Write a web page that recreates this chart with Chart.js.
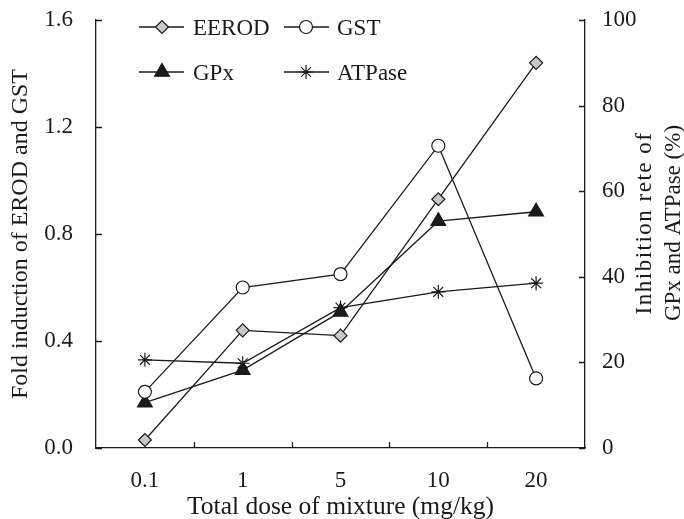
<!DOCTYPE html>
<html>
<head>
<meta charset="utf-8">
<script src="https://cdn.jsdelivr.net/npm/chart.js@4/dist/chart.umd.min.js"></script>
<style>
  html, body { margin: 0; padding: 0; background: #fff; }
  #wrap { width: 684px; height: 519px; }
</style>
</head>
<body>
<div id="wrap"><canvas id="doseChart" width="684" height="519"></canvas></div>
<script>
// Dose groups (mg/kg)
const doses = ['0.1', '1', '5', '10', '20'];

// Fold induction (left axis)
const erodFold = [0.03, 0.44, 0.42, 0.93, 1.44];
const gstFold = [0.21, 0.60, 0.65, 1.13, 0.26];

// Inhibition rate, % (right axis)
const gpxInhib = [10.6, 18.2, 31.8, 53.0, 55.2];
const atpaseInhib = [20.6, 19.8, 32.8, 36.5, 38.5];

// Axis tick values
const leftTicks = [0, 0.4, 0.8, 1.2, 1.6];
const rightTicks = [0, 20, 40, 60, 80, 100];

const SERIF = "'Liberation Serif', 'Times New Roman', serif";
const INK = '#1a1a1a';

Chart.defaults.font.family = SERIF;
Chart.defaults.color = INK;

const series = [
    { label: 'EEROD', data: erodFold, axis: 'y', style: 'rectRot', radius: 6.5, fill: '#c8c8c8' },
    { label: 'GST', data: gstFold, axis: 'y', style: 'circle', radius: 6.5, fill: '#ffffff' },
    { label: 'GPx', data: gpxInhib, axis: 'y1', style: 'triangle', radius: 8.5, fill: INK },
    { label: 'ATPase', data: atpaseInhib, axis: 'y1', style: 'star', radius: 7, fill: INK }
];

// Legend slots: two rows, two columns inside the plot
const legendSlots = [
    { x0: 139, x1: 184, mx: 162, tx: 193, y: 27 },
    { x0: 284, x1: 329, mx: 306, tx: 337, y: 27 },
    { x0: 139, x1: 184, mx: 162, tx: 193, y: 72 },
    { x0: 284, x1: 329, mx: 306, tx: 337, y: 72 }
];

// keep the plot box fixed regardless of label sizes
function noPad(scale) {
    scale.paddingTop = 0;
    scale.paddingBottom = 0;
}

const insideTicks = {
    id: 'insideTicks',
    afterDraw(chart) {
        const ctx = chart.ctx;
        const area = chart.chartArea;
        const len = 6;
        ctx.save();
        ctx.strokeStyle = INK;
        ctx.lineWidth = 1.3;
        ctx.beginPath();
        const yl = chart.scales.y;
        yl.ticks.forEach((t, i) => {
            const py = Math.round(yl.getPixelForTick(i)) + 0.5;
            ctx.moveTo(area.left, py);
            ctx.lineTo(area.left + len, py);
        });
        const yr = chart.scales.y1;
        yr.ticks.forEach((t, i) => {
            const py = Math.round(yr.getPixelForTick(i)) + 0.5;
            ctx.moveTo(area.right, py);
            ctx.lineTo(area.right - len, py);
        });
        // x ticks sit between the dose groups
        const xs = chart.scales.x;
        for (let i = 0; i < doses.length - 1; i++) {
            const px = Math.round((xs.getPixelForTick(i) + xs.getPixelForTick(i + 1)) / 2) + 0.5;
            ctx.moveTo(px, area.bottom);
            ctx.lineTo(px, area.bottom - len);
        }
        ctx.stroke();
        ctx.restore();
    }
};

const legendBox = {
    id: 'legendBox',
    afterDraw(chart) {
        const ctx = chart.ctx;
        ctx.save();
        series.forEach((s, i) => {
            const slot = legendSlots[i];
            ctx.strokeStyle = INK;
            ctx.lineWidth = 1.3;
            ctx.beginPath();
            ctx.moveTo(slot.x0, slot.y);
            ctx.lineTo(slot.x1, slot.y);
            ctx.stroke();

            ctx.fillStyle = s.fill;
            ctx.strokeStyle = INK;
            ctx.lineWidth = 1.2;
            Chart.helpers.drawPoint(ctx, {
                pointStyle: s.style,
                radius: s.radius,
                rotation: 0,
                borderWidth: 1.2
            }, slot.mx, slot.y);

            ctx.fillStyle = INK;
            ctx.font = '23px ' + SERIF;
            ctx.textAlign = 'left';
            ctx.textBaseline = 'alphabetic';
            ctx.fillText(s.label, slot.tx, slot.y + 8);
        });
        ctx.restore();
    }
};

// Right axis title reads bottom-to-top, on two lines
const rightTitle = {
    id: 'rightTitle',
    afterDraw(chart) {
        const ctx = chart.ctx;
        const cy = 223;
        ctx.save();
        ctx.fillStyle = INK;
        ctx.font = '23px ' + SERIF;
        ctx.textAlign = 'center';
        ctx.textBaseline = 'middle';
        [['Inhibition rete of', 645, '1.5px'], ['GPx and ATPase (%)', 674, '0px']].forEach(([txt, cx, gap]) => {
            ctx.save();
            ctx.letterSpacing = gap;
            ctx.translate(cx, cy);
            ctx.rotate(-Math.PI / 2);
            ctx.fillText(txt, 0, 0);
            ctx.restore();
        });
        ctx.restore();
    }
};

const ctx = document.getElementById('doseChart').getContext('2d');

new Chart(ctx, {
    type: 'line',
    data: {
        labels: doses,
        datasets: series.map(s => ({
            label: s.label,
            data: s.data,
            yAxisID: s.axis,
            borderColor: INK,
            borderWidth: 1.3,
            tension: 0,
            fill: false,
            pointStyle: s.style,
            pointRadius: s.radius,
            pointBackgroundColor: s.fill,
            pointBorderColor: INK,
            pointBorderWidth: 1.2
        }))
    },
    options: {
        responsive: false,
        animation: false,
        layout: { padding: { top: 20, left: 0, right: 0, bottom: 0 } },
        plugins: {
            legend: { display: false },
            tooltip: { enabled: false }
        },
        scales: {
            x: {
                type: 'category',
                offset: true,
                grid: { display: false },
                border: { display: true, color: INK, width: 1.3 },
                ticks: { font: { size: 23 }, color: INK, padding: 11, maxRotation: 0 },
                title: {
                    display: true,
                    text: 'Total dose of mixture (mg/kg)',
                    font: { size: 25.5 },
                    color: INK,
                    padding: { top: 0, bottom: -4 }
                },
                afterFit(scale) { scale.height = 71; }
            },
            y: {
                position: 'left',
                min: 0,
                max: 1.6,
                afterBuildTicks(scale) { scale.ticks = leftTicks.map(v => ({ value: v })); },
                grid: { display: false },
                border: { display: true, color: INK, width: 1.3 },
                ticks: {
                    font: { size: 23 },
                    color: INK,
                    padding: 15,
                    callback: v => v.toFixed(1)
                },
                title: {
                    display: true,
                    text: 'Fold induction of EROD and GST',
                    font: { size: 24 },
                    color: INK,
                    padding: { top: 6, bottom: 0 }
                },
                afterFit(scale) { scale.width = 96; noPad(scale); }
            },
            y1: {
                position: 'right',
                min: 0,
                max: 100,
                afterBuildTicks(scale) { scale.ticks = rightTicks.map(v => ({ value: v })); },
                grid: { display: false },
                border: { display: true, color: INK, width: 1.3 },
                ticks: { font: { size: 23 }, color: INK, padding: 9 },
                afterFit(scale) { scale.width = 99; noPad(scale); }
            }
        }
    },
    plugins: [insideTicks, legendBox, rightTitle]
});
</script>
</body>
</html>
